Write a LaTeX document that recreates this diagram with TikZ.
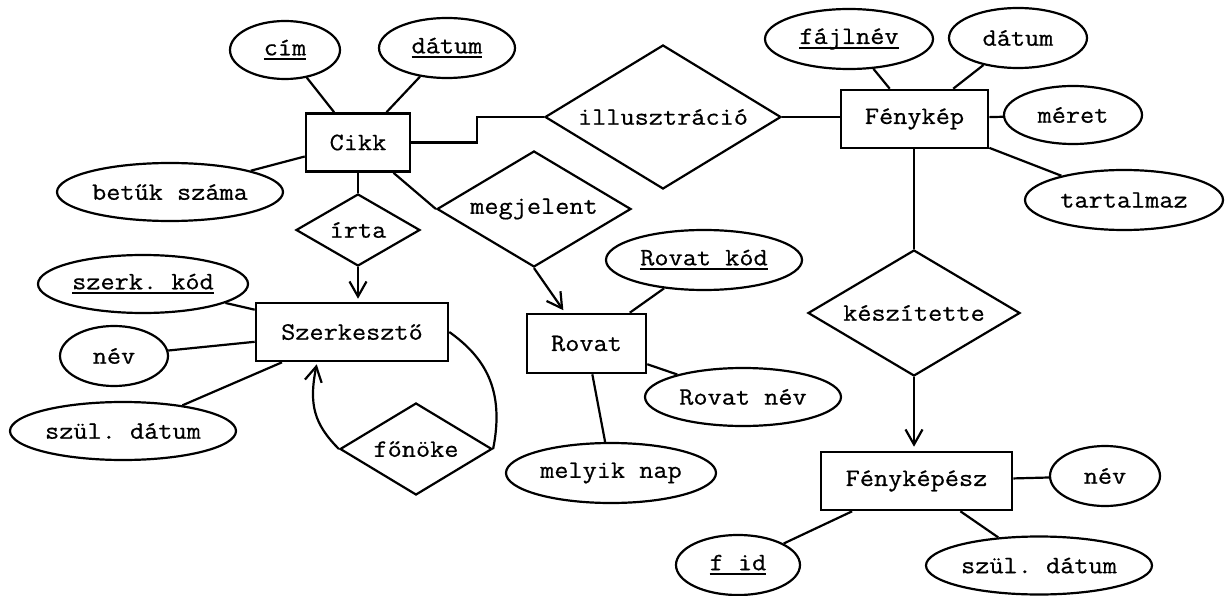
\documentclass[tikz,border=0pt]{standalone}
\usepackage{fontspec}
\setmonofont{Latin Modern Mono}[FakeStretch=1.1,FakeBold=0.6]
\usetikzlibrary{shapes.geometric,arrows.meta,calc}

% key attributes: a rule set at a fixed depth below the baseline
\newcommand\keyattr[1]{\setbox0\hbox{#1}\rlap{\rule[-5pt]{\wd0}{2.2pt}}\box0}

\begin{document}
\begin{tikzpicture}[x=1pt,y=-1pt,
  every node/.style={font=\ttfamily\fontsize{25}{30}\selectfont, inner sep=0pt},
  ent/.style={draw, line width=2.6pt, rectangle, minimum height=58pt},
  attr/.style={draw, line width=2.2pt, ellipse},
  rel/.style={draw, line width=2.2pt, diamond, aspect=1.65},
  conn/.style={line width=2.2pt},
  arr/.style={conn, -{Straight Barb[length=15pt,width=17pt,line width=2.2pt]}},
]
\useasboundingbox (0,0) rectangle (1226,596);

% entities
\node[ent, minimum width=104pt] (cikk) at (358,142.5) {Cikk};
\node[ent, minimum width=192pt] (szerk) at (352,332) {Szerkesztő};
\node[ent, minimum width=119pt, minimum height=59pt] (rovat) at (586.5,343.5) {Rovat};
\node[ent, minimum width=147pt] (fenykep) at (914.5,119) {Fénykép};
\node[ent, minimum width=191pt] (fotos) at (916.5,481) {Fényképész};

% relationships
\node[rel, minimum width=124pt, minimum height=72pt] (irta) at (358,230) {írta};
\node[rel, minimum width=194pt, minimum height=116pt] (megj) at (534,209) {megjelent};
\node[rel, minimum width=236pt, minimum height=144pt] (illus) at (663,117) {illusztráció};
\node[rel, minimum width=212pt, minimum height=126pt] (kesz) at (914,313) {készítette};
\node[rel, minimum width=152pt, minimum height=92pt] (fonoke) at (416,449) {főnöke};

% attributes
\node[attr, minimum width=110pt, minimum height=58pt] (cim) at (285,50) {\keyattr{cím}};
\node[attr, minimum width=136pt, minimum height=60pt] (datumc) at (447,48) {\keyattr{dátum}};
\node[attr, minimum width=226pt, minimum height=58pt] (betuk) at (170,192) {betűk száma};
\node[attr, minimum width=210pt, minimum height=58pt] (szkod) at (143,284) {\keyattr{szerk. kód}};
\node[attr, minimum width=108pt, minimum height=60pt] (nevsz) at (114,356) {név};
\node[attr, minimum width=226pt, minimum height=58pt] (szulsz) at (123,431) {szül. dátum};
\node[attr, minimum width=196pt, minimum height=60pt] (rkod) at (704,260) {\keyattr{Rovat kód}};
\node[attr, minimum width=196pt, minimum height=58pt] (rnev) at (743,397) {Rovat név};
\node[attr, minimum width=210pt, minimum height=60pt] (melyik) at (611,473) {melyik nap};
\node[attr, minimum width=168pt, minimum height=60pt] (fajl) at (849,39) {\keyattr{fájlnév}};
\node[attr, minimum width=138pt, minimum height=60pt] (datumf) at (1018,38) {dátum};
\node[attr, minimum width=138pt, minimum height=58pt] (meret) at (1073,115) {méret};
\node[attr, minimum width=198pt, minimum height=60pt] (tart) at (1124,200) {tartalmaz};
\node[attr, minimum width=110pt, minimum height=60pt] (nevf) at (1105,476) {név};
\node[attr, minimum width=124pt, minimum height=60pt] (fid) at (738,565) {\keyattr{f id}};
\node[attr, minimum width=226pt, minimum height=58pt] (szulf) at (1039,565.5) {szül. dátum};

% attribute links
\draw[conn] (cim) -- (cikk);
\draw[conn] (datumc) -- (cikk);
\draw[conn] (betuk) -- (cikk);
\draw[conn] (szkod) -- (szerk);
\draw[conn] (nevsz) -- (szerk);
\draw[conn] (szulsz) -- (szerk);
\draw[conn] (rkod) -- (rovat);
\draw[conn] (rnev) -- (rovat);
\draw[conn] (melyik) -- (rovat);
\draw[conn] (fajl) -- (fenykep);
\draw[conn] (datumf) -- (fenykep);
\draw[conn] (meret) -- (fenykep);
\draw[conn] (tart) -- (fenykep);
\draw[conn] (nevf) -- (fotos);
\draw[conn] (fid) -- (fotos);
\draw[conn] (szulf) -- (fotos);

% relationship links
\draw[conn] (cikk) -- (irta);
\draw[arr, shorten >=3pt] (irta.south) -- (irta.south |- szerk.north);
\draw[conn] (cikk) -- (megj.west);
\draw[arr, shorten >=3pt] (megj.south) -- (rovat);
\draw[conn] (cikk.east) -- ++(66,0) |- (illus.west);
\draw[conn] (illus.east) -- (illus.east -| fenykep.west);
\draw[conn] (kesz.north) -- (kesz.north |- fenykep.south);
\draw[arr, shorten >=4pt] (kesz.south) -- (kesz.south |- fotos.north);

% recursive relationship
\coordinate (bosshead) at ($(szerk.south west)+(62,2)$);
\draw[conn] (szerk.east) .. controls +(35,25) and +(12,-60) .. (fonoke.east);
\draw[arr] (fonoke.west) .. controls +(-25,-25) and +(-8,40) .. (bosshead);
\end{tikzpicture}
\end{document}
